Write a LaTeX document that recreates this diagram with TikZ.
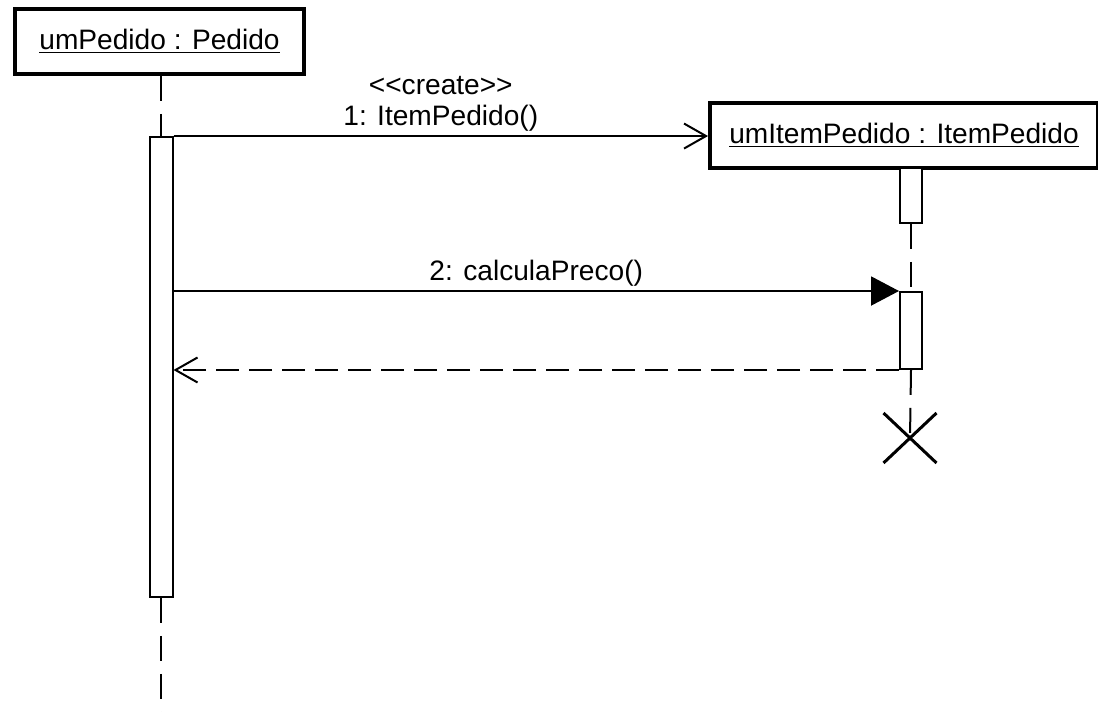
\documentclass[tikz,border=0pt]{standalone}
\usepackage{fontspec}
\setmainfont{Liberation Sans}
\usetikzlibrary{arrows.meta,shapes.misc,positioning}
\tikzset{
  objbox/.style={draw, line width=0.8mm, minimum height=1.3cm, inner sep=0pt, font=\fontsize{16}{19}\selectfont},
  actbox/.style={draw, fill=white, line width=0.4mm, minimum width=0.46cm, inner sep=0pt},
  lifeline/.style={line width=0.4mm, dash pattern=on 0.5cm off 0.26cm},
  msg/.style={line width=0.4mm, -{Straight Barb[length=4.4mm,width=5mm]}},
  call/.style={line width=0.4mm, -{Triangle[length=5.6mm,width=5.8mm]}},
  reply/.style={msg, dash pattern=on 0.46cm off 0.2cm},
  msglabel/.style={font=\fontsize{16}{19}\selectfont, inner sep=1pt},
}

\begin{document}
\begin{tikzpicture}[x=0.02cm,y=-0.02cm]
	\useasboundingbox (0,0) rectangle (1098,712);
	%%%%% START %%%%%
	\node[objbox, minimum width=5.78cm] (pedido) at (159.5,41.5) {\underline{umPedido : Pedido}};
	\node[objbox, minimum width=7.76cm] (item) at (904,135.5) {\underline{umItemPedido : ItemPedido}};
	
	\node[actbox, minimum height=9.2cm] (act1) at (161,367) {};
	\node[actbox, minimum width=0.44cm, minimum height=1.1cm] (act2a) at (911,195.5) {};
	\node[actbox, minimum width=0.44cm, minimum height=1.54cm] (act2b) at (911,330.5) {};
	\node[cross out, draw, line width=0.6mm, minimum width=1cm, minimum height=0.94cm, inner sep=0pt] (kill) at (910,438) {};
	\coordinate (end1) at (161,712);
	
	\draw[lifeline] (act1.north |- pedido.south) -- (act1.north);
	\draw[lifeline] (act1.south) -- (end1);
	\draw[lifeline] (act2a.south) -- (act2b.north);
	\draw[lifeline] (act2b.south) -- (kill.center);
	
	\draw[msg] (act1.north east) -- (act1.north east -| item.west)
		node[msglabel, midway, above=1pt] (lbl1) {1: ItemPedido()};
	\node[msglabel, above=3pt of lbl1] (create) {<\kern0pt<create>\kern0pt>};
	
	\draw[call] (act1.east |- act2b.north) -- (act2b.north west)
		node[msglabel, midway, above=1pt] (lbl2) {2: calculaPreco()};
	\draw[reply] (act2b.south west) -- (act1.east |- act2b.south);
	%%%%% END %%%%%
\end{tikzpicture}
\end{document}
